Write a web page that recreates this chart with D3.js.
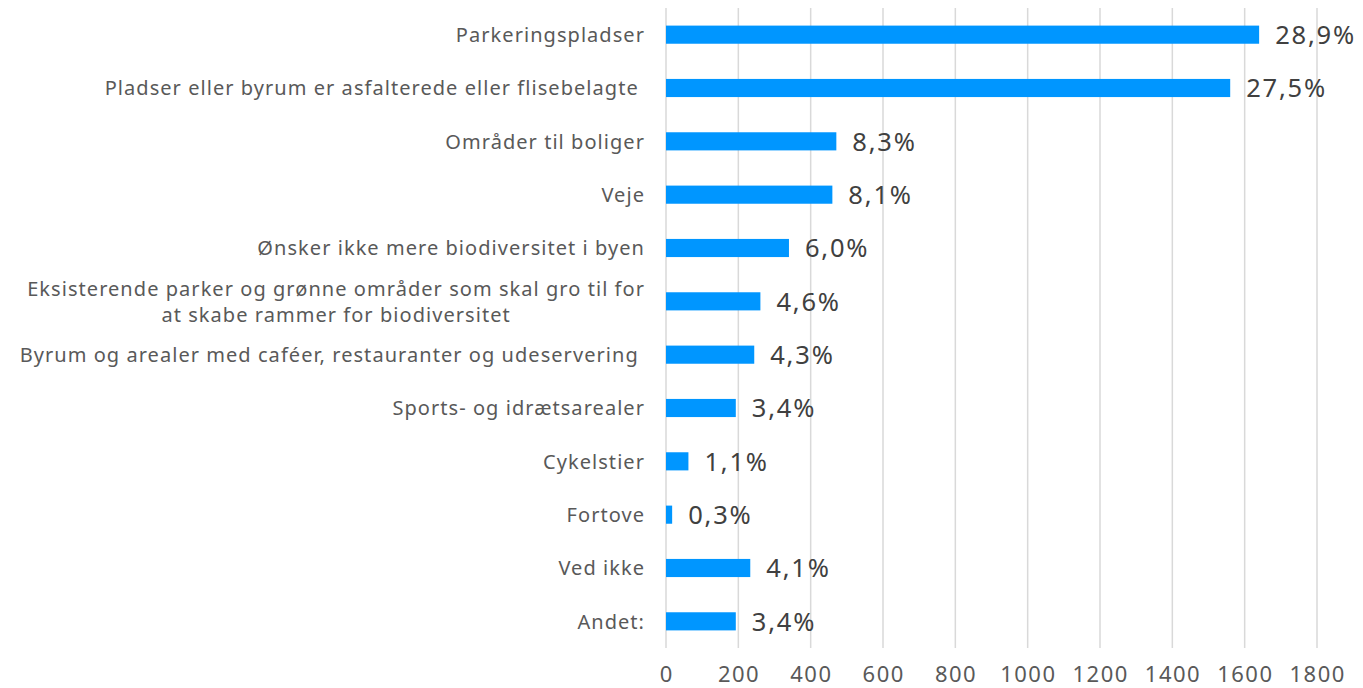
<!DOCTYPE html>
<html>
<head>
<meta charset="utf-8">
<script src="https://cdn.jsdelivr.net/npm/d3@7"></script>
<style>
  body { margin: 0; background: #fff; }
  text { font-family: "Noto Sans", sans-serif; white-space: pre; }
</style>
</head>
<body>
<div id="chart"></div>
<script>
// categories (top to bottom), estimated counts, and printed shares
var categories = [
    ["Parkeringspladser"],
    ["Pladser eller byrum er asfalterede eller flisebelagte "],
    ["Områder til boliger"],
    ["Veje"],
    ["Ønsker ikke mere biodiversitet i byen"],
    ["Eksisterende parker og grønne områder som skal gro til for", "at skabe rammer for biodiversitet"],
    ["Byrum og arealer med caféer, restauranter og udeservering "],
    ["Sports- og idrætsarealer"],
    ["Cykelstier"],
    ["Fortove"],
    ["Ved ikke"],
    ["Andet:"]
];
var counts = [1640, 1560, 471, 460, 340, 261, 244, 193, 62, 17, 233, 193];
var shares = ["28,9%", "27,5%", "8,3%", "8,1%", "6,0%", "4,6%", "4,3%", "3,4%", "1,1%", "0,3%", "4,1%", "3,4%"];
var xTicks = [0, 200, 400, 600, 800, 1000, 1200, 1400, 1600, 1800];

var width = 1363,
    height = 688,
    plot_left = 666,
    plot_right = 1317,
    plot_top = 8,
    plot_bottom = 648,
    label_right = 645,
    barColor = "#0096FF",
    gridColor = "#D9D9D9",
    textColor = "#595959",
    valueColor = "#404040";

var svg = d3.select("#chart").append("svg")
    .attr("width", width)
    .attr("height", height);

var idx = d3.range(categories.length);

var x = d3.scaleLinear()
    .domain([0, 1800])
    .range([plot_left, plot_right]);

var y = d3.scaleBand()
    .domain(idx)
    .range([plot_top, plot_bottom])
    .paddingInner(0.66)
    .paddingOuter(0.33);

// vertical gridlines
svg.append("g")
    .attr("id", "grid")
    .selectAll("line")
    .data(xTicks)
    .enter().append("line")
        .attr("x1", d => x(d))
        .attr("x2", d => x(d))
        .attr("y1", plot_top)
        .attr("y2", plot_bottom)
        .attr("stroke", gridColor)
        .attr("stroke-width", 1.5);

// x tick labels
svg.append("g")
    .attr("id", "x-axis")
    .selectAll("text")
    .data(xTicks)
    .enter().append("text")
        .attr("x", d => x(d) + 0.7)
        .attr("y", 682)
        .attr("text-anchor", "middle")
        .attr("font-size", 22)
        .attr("letter-spacing", 1.5)
        .attr("fill", textColor)
        .text(d => d);

// bars
svg.append("g")
    .attr("id", "bars")
    .selectAll("rect")
    .data(idx)
    .enter().append("rect")
        .attr("x", x(0))
        .attr("y", i => y(i))
        .attr("width", i => x(counts[i]) - x(0))
        .attr("height", y.bandwidth())
        .attr("fill", barColor);

// value labels
svg.append("g")
    .attr("id", "values")
    .selectAll("text")
    .data(idx)
    .enter().append("text")
        .attr("x", i => x(counts[i]) + 16)
        .attr("y", i => y(i) + y.bandwidth() / 2)
        .attr("dy", "0.36em")
        .attr("font-size", 25.5)
        .attr("letter-spacing", 1.8)
        .attr("fill", valueColor)
        .text(i => shares[i]);

// category labels
var labels = svg.append("g")
    .attr("id", "labels")
    .selectAll("text")
    .data(idx)
    .enter().append("text")
        .attr("font-size", 20)
        .attr("letter-spacing", 1.05)
        .attr("fill", textColor)
        .attr("text-anchor", "end")
        .attr("x", label_right)
        .attr("y", i => y(i) + y.bandwidth() / 2 - (categories[i].length - 1) * 13)
        .attr("dy", "0.36em");

labels.each(function(i) {
    var t = d3.select(this);
    var lines = categories[i];
    if (lines.length === 1) {
        t.text(lines[0]);
    } else {
        // multi-line label: centre lines under the first one
        t.append("tspan").attr("x", label_right).text(lines[0]);
        var w = this.getComputedTextLength();
        var cx = label_right - w / 2;
        t.attr("text-anchor", "middle");
        t.select("tspan").attr("x", cx);
        lines.slice(1).forEach(function(l) {
            t.append("tspan").attr("x", cx).attr("dy", 26).text(l);
        });
    }
});
</script>
</body>
</html>
